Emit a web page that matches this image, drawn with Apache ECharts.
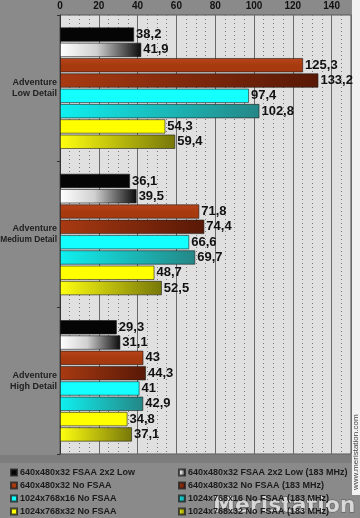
<!DOCTYPE html>
<html><head><meta charset="utf-8">
<script src="https://cdn.jsdelivr.net/npm/echarts@6/dist/echarts.min.js"></script>
<style>html,body{margin:0;padding:0;background:#8a8a8a}#c{width:360px;height:518px}</style>
</head><body><div id="c"></div>
<script>
var categories = ['Adventure\nLow Detail', 'Adventure\nMedium Detail', 'Adventure\nHigh Detail'];
var seriesNames = [
  '640x480x32 FSAA 2x2 Low',
  '640x480x32 FSAA 2x2 Low (183 MHz)',
  '640x480x32 No FSAA',
  '640x480x32 No FSAA (183 MHz)',
  '1024x768x16 No FSAA',
  '1024x768x16 No FSAA (183 MHz)',
  '1024x768x32 No FSAA',
  '1024x768x32 No FSAA (183 MHz)'
];
var fsaaLow = [38.2, 36.1, 29.3];
var fsaaLow183 = [41.9, 39.5, 31.1];
var noFsaa640 = [125.3, 71.8, 43];
var noFsaa640_183 = [133.2, 74.4, 44.3];
var res16 = [97.4, 66.6, 41];
var res16_183 = [102.8, 69.7, 42.9];
var res32 = [54.3, 48.7, 34.8];
var res32_183 = [59.4, 52.5, 37.1];
var xTicks = [0, 20, 40, 60, 80, 100, 120, 140];

var G = echarts.graphic.LinearGradient;
var colors = [
  '#050505',
  new G(0,0,1,0,[{offset:0,color:'#ffffff'},{offset:0.45,color:'#d0d0d0'},{offset:1,color:'#0a0a0a'}]),
  new G(0,0,0,1,[{offset:0,color:'#b8441a'},{offset:0.5,color:'#a83a10'},{offset:1,color:'#a5380e'}]),
  new G(0,0,1,0,[{offset:0,color:'#a83a12'},{offset:1,color:'#581806'}]),
  '#14ffff',
  new G(0,0,1,0,[{offset:0,color:'#0ff0f0'},{offset:1,color:'#258686'}]),
  '#ffff00',
  new G(0,0,1,0,[{offset:0,color:'#ffff10'},{offset:1,color:'#77770a'}])
];
var dataSets = [fsaaLow, fsaaLow183, noFsaa640, noFsaa640_183, res16, res16_183, res32, res32_183];

var series = dataSets.map(function(d, i){
  return {
    name: seriesNames[i], type: 'bar', data: d,
    barGap: '7%', barCategoryGap: '17%',
    itemStyle: {color: colors[i], borderColor: 'rgba(30,30,30,0.75)', borderWidth: 0.8},
    label: {show: true, position: 'right', distance: 2,
      fontFamily: 'Liberation Sans, Arial', fontWeight: 'bold', fontSize: 13, color: '#111',
      formatter: function(p){ return String(p.value).replace('.', ','); }}
  };
});

var legendTops = [468, 481, 494, 507];
var legends = seriesNames.map(function(n, i){
  return {orient: 'horizontal', left: (i % 2 === 0) ? 10 : 178, top: legendTops[Math.floor(i / 2)],
    itemWidth: 6, itemHeight: 6, icon: 'rect', padding: 0, data: [n],
    textStyle: {fontFamily: 'Liberation Sans, Arial', fontWeight: 'bold', fontSize: 9, color: '#1a1a1a', padding: [0,0,0,-2]}};
});

var labelFont = 'Liberation Sans, Arial';
var chart = echarts.init(document.getElementById('c'), null, {renderer: 'canvas'});
chart.setOption({
  backgroundColor: '#8a8a8a',
  animation: false,
  grid: {left: 60, right: 9, top: 15, bottom: 64, containLabel: false, outerBoundsMode: 'none',
    show: true, backgroundColor: '#e0e0e0', borderColor: '#555', borderWidth: 1},
  xAxis: {
    type: 'value', position: 'top', min: 0, max: 150, interval: 20,
    axisLine: {show: false}, axisTick: {show: false},
    axisLabel: {margin: 4, fontFamily: labelFont, fontWeight: 'bold', fontSize: 10, color: '#111',
      showMaxLabel: false,
      formatter: function(v){ return xTicks.indexOf(v) >= 0 ? String(v) : ''; }},
    splitLine: {show: true, lineStyle: {color: '#6a6a6a', width: 1}},
    minorTick: {show: false, splitNumber: 4},
    minorSplitLine: {show: true, lineStyle: {color: '#777', width: 1, type: [1, 3]}}
  },
  yAxis: {
    type: 'category', data: categories, inverse: true,
    axisLine: {show: true, lineStyle: {color: '#333'}},
    axisTick: {show: true, length: 3, lineStyle: {color: '#333'}},
    axisLabel: {margin: 3, align: 'right', fontFamily: labelFont, fontWeight: 'bold', fontSize: 9, color: '#222', lineHeight: 11,
      formatter: function(v){
        var lines = v.split('\n');
        return lines.map(function(l){ return l.length > 11 ? '{s|' + l + '}' : '{n|' + l + '}'; }).join('\n');
      },
      rich: {
        n: {fontFamily: labelFont, fontWeight: 'bold', fontSize: 9, color: '#222', lineHeight: 11},
        s: {fontFamily: labelFont, fontWeight: 'bold', fontSize: 8.4, color: '#222', lineHeight: 11}
      }}
  },
  legend: legends,
  graphic: [
    {type: 'rect', left: 0, top: 455, shape: {width: 352, height: 8}, style: {fill: '#7d7d7d'}, silent: true},
    {type: 'rect', left: 352, top: 0, shape: {width: 8, height: 495}, style: {fill: '#f2f2f2'}, silent: true},
    {type: 'text', x: 356, y: 490, rotation: Math.PI / 2,
     style: {text: 'www.meristation.com', font: '8px Liberation Sans, Arial', fill: '#444', align: 'left', verticalAlign: 'middle'}, silent: true},
    {type: 'text', right: 4, bottom: 0,
     style: {text: 'Meristation', font: 'bold 22px DejaVu Sans, Arial', fill: 'rgba(235,235,235,0.8)', stroke: '#555', lineWidth: 1}, silent: true}
  ],
  series: series
});
</script></body></html>
